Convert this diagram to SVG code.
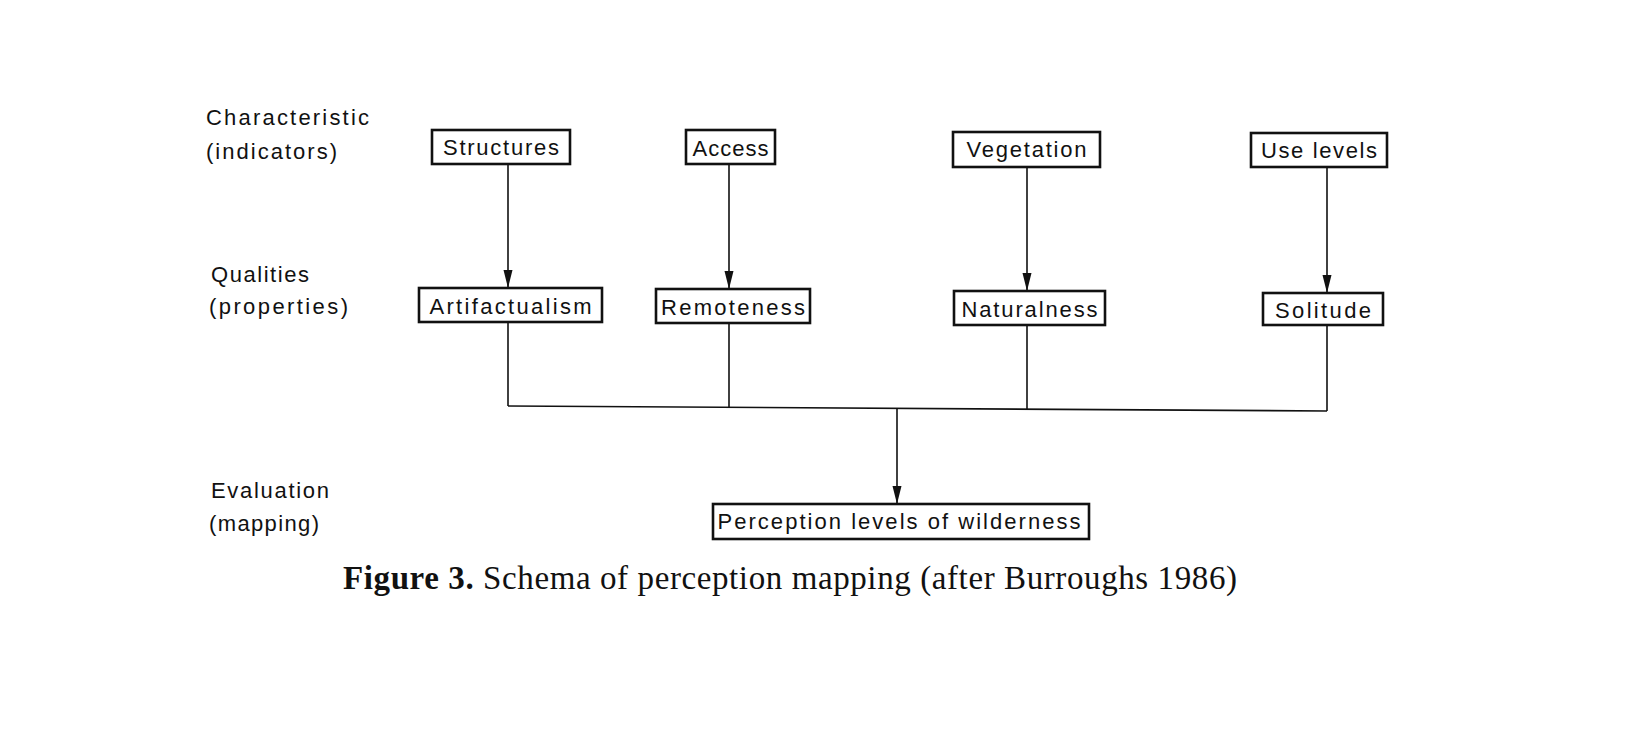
<svg xmlns="http://www.w3.org/2000/svg" width="1638" height="755" viewBox="0 0 1638 755">
<defs>
<marker id="arr" markerUnits="userSpaceOnUse" markerWidth="20" markerHeight="10" refX="18" refY="4.5" orient="auto">
<path d="M0,0 L18,4.5 L0,9 z" fill="#111"/>
</marker>
<style>
.box{fill:#fff;stroke:#111;stroke-width:2.6}
.lbl{font-family:"Liberation Sans","DejaVu Sans",sans-serif;font-size:22px;fill:#111;text-anchor:middle}
.side{font-family:"Liberation Sans","DejaVu Sans",sans-serif;font-size:22px;fill:#111}
.ln{fill:none;stroke:#111;stroke-width:1.6}
.cap{font-family:"Liberation Serif","Times New Roman",serif;font-size:33px;fill:#111}
</style>
</defs>
<rect width="1638" height="755" fill="#fff"/>
<g id="row-labels">
<text class="side" x="206" y="125" textLength="163" lengthAdjust="spacing">Characteristic</text>
<text class="side" x="206" y="159" textLength="131" lengthAdjust="spacing">(indicators)</text>
<text class="side" x="211" y="282" textLength="98" lengthAdjust="spacing">Qualities</text>
<text class="side" x="209" y="314" textLength="139" lengthAdjust="spacing">(properties)</text>
<text class="side" x="211" y="498" textLength="118" lengthAdjust="spacing">Evaluation</text>
<text class="side" x="209" y="531" textLength="110" lengthAdjust="spacing">(mapping)</text>
</g>
<g id="connectors">
<line class="ln" x1="508" y1="164" x2="508" y2="288" marker-end="url(#arr)"/>
<line class="ln" x1="729" y1="164" x2="729" y2="289" marker-end="url(#arr)"/>
<line class="ln" x1="1027" y1="167" x2="1027" y2="291" marker-end="url(#arr)"/>
<line class="ln" x1="1327" y1="167" x2="1327" y2="293" marker-end="url(#arr)"/>
<line class="ln" x1="508" y1="322" x2="508" y2="406"/>
<line class="ln" x1="729" y1="323" x2="729" y2="407"/>
<line class="ln" x1="1027" y1="325" x2="1027" y2="409"/>
<line class="ln" x1="1327" y1="325" x2="1327" y2="411"/>
<line class="ln" x1="508" y1="406" x2="1327" y2="411"/>
<line class="ln" x1="897" y1="408.5" x2="897" y2="504" marker-end="url(#arr)"/>
</g>
<g id="structures"><rect class="box" x="432" y="130" width="138" height="34"/><text class="lbl" x="501" y="155" textLength="116" lengthAdjust="spacing">Structures</text></g>
<g id="access"><rect class="box" x="686" y="130" width="89" height="34"/><text class="lbl" x="730.5" y="156" textLength="76" lengthAdjust="spacing">Access</text></g>
<g id="vegetation"><rect class="box" x="953" y="132" width="147" height="35"/><text class="lbl" x="1026.5" y="157" textLength="120" lengthAdjust="spacing">Vegetation</text></g>
<g id="use-levels"><rect class="box" x="1251" y="133" width="136" height="34"/><text class="lbl" x="1319" y="158" textLength="116" lengthAdjust="spacing">Use levels</text></g>
<g id="artifactualism"><rect class="box" x="419" y="288" width="183" height="34"/><text class="lbl" x="510.5" y="314" textLength="162" lengthAdjust="spacing">Artifactualism</text></g>
<g id="remoteness"><rect class="box" x="656" y="289" width="154" height="34"/><text class="lbl" x="733" y="315" textLength="144" lengthAdjust="spacing">Remoteness</text></g>
<g id="naturalness"><rect class="box" x="954" y="291" width="151" height="34"/><text class="lbl" x="1029.5" y="317" textLength="136" lengthAdjust="spacing">Naturalness</text></g>
<g id="solitude"><rect class="box" x="1263" y="293" width="120" height="32"/><text class="lbl" x="1323" y="318" textLength="96" lengthAdjust="spacing">Solitude</text></g>
<g id="perception"><rect class="box" x="713" y="504" width="376" height="35"/><text class="lbl" x="899" y="529" textLength="363" lengthAdjust="spacing">Perception levels of wilderness</text></g>
<g id="caption">
<text class="cap" x="343" y="589" textLength="894" lengthAdjust="spacing"><tspan font-weight="bold">Figure 3.</tspan> Schema of perception mapping (after Burroughs 1986)</text>
</g>
</svg>
